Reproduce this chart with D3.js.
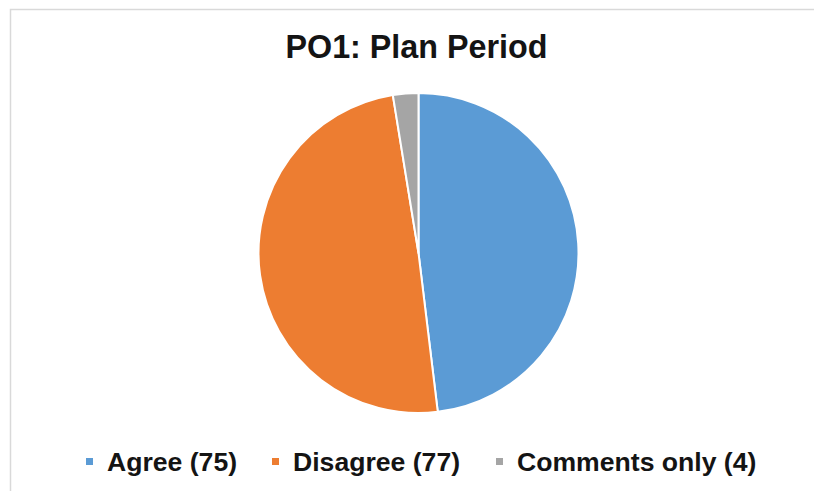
<!DOCTYPE html>
<html>
<head>
<meta charset="utf-8">
<script src="https://cdn.jsdelivr.net/npm/d3@7"></script>
<style>
  html, body { margin: 0; padding: 0; background: #fff; }
  svg { display: block; }
  text { font-family: "Liberation Sans", Arial, sans-serif; font-weight: bold; fill: #141414; }
</style>
</head>
<body>
<svg id="chart" width="814" height="491"></svg>
<script>
const title = "PO1: Plan Period";
const categories = ["Agree", "Disagree", "Comments only"];
const values = [75, 77, 4];
const colors = ["#5B9BD5", "#ED7D31", "#A5A5A5"];
const legendX = [86, 272, 496];

const svg = d3.select("#chart");
const W = 814, H = 491;

// chart-area border
svg.append("path")
  .attr("d", `M10.5,${H} V9.5 H${W}`)
  .attr("fill", "none")
  .attr("stroke", "#d9d9d9")
  .attr("stroke-width", 1.5);

// title
svg.append("text")
  .attr("x", 416.5).attr("y", 58)
  .attr("text-anchor", "middle")
  .style("font-size", "32.3px")
  .text(title);

// pie
const cx = 418.5, cy = 253, r = 160;
const data = categories.map((c, i) => ({ name: c, value: values[i], color: colors[i] }));
const pie = d3.pie().sort(null).value(d => d.value);
const arc = d3.arc().innerRadius(0).outerRadius(r);

svg.append("g")
  .attr("transform", `translate(${cx},${cy})`)
  .selectAll("path")
  .data(pie(data))
  .join("path")
  .attr("d", arc)
  .attr("fill", d => d.data.color)
  .attr("stroke", "#fff")
  .attr("stroke-width", 2)
  .attr("stroke-linejoin", "round");

// legend
const lg = svg.append("g");
data.forEach((d, i) => {
  lg.append("rect")
    .attr("x", legendX[i]).attr("y", 458)
    .attr("width", 7).attr("height", 7)
    .attr("fill", d.color);
  lg.append("text")
    .attr("x", legendX[i] + 21).attr("y", 471)
    .style("font-size", "26.6px")
    .text(`${d.name} (${d.value})`);
});
</script>
</body>
</html>
